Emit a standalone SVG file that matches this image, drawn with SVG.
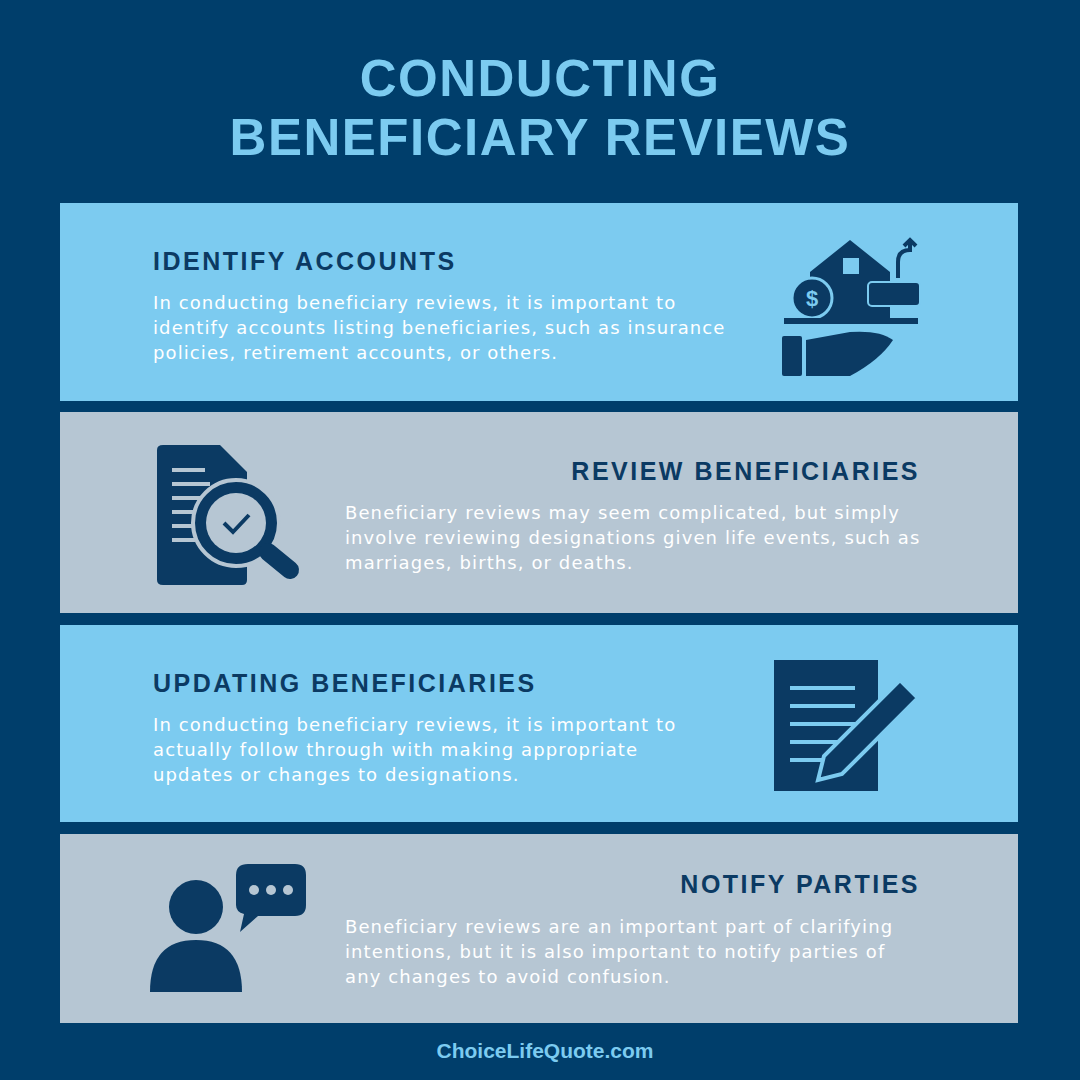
<svg xmlns="http://www.w3.org/2000/svg" width="1080" height="1080" viewBox="0 0 1080 1080">
<style>
.t{font-family:"Liberation Sans",Arial,sans-serif;font-weight:bold;fill:#7ccbf0;font-size:51px;text-anchor:middle;letter-spacing:1.5px}
.h{font-family:"Liberation Sans",Arial,sans-serif;font-weight:bold;fill:#0b3a63;font-size:25px;letter-spacing:2.5px}
.b{font-family:"DejaVu Sans",sans-serif;fill:#ffffff;font-size:18px;letter-spacing:1.1px}
.i{fill:#0b3a63}
</style>
<rect width="1080" height="1080" fill="#003e6b"/>
<text class="t" x="540" y="96">CONDUCTING</text>
<text class="t" x="540" y="155">BENEFICIARY REVIEWS</text>

<g id="p1">
<rect x="60" y="203" width="958" height="198" fill="#7ccbf0"/>
<text class="h" x="153" y="270">IDENTIFY ACCOUNTS</text>
<text class="b" x="153" y="309">In conducting beneficiary reviews, it is important to</text>
<text class="b" x="153" y="334">identify accounts listing beneficiaries, such as insurance</text>
<text class="b" x="153" y="359">policies, retirement accounts, or others.</text>
<g class="i">
<path d="M810 272 L850 240 L890 272 L890 318 L810 318Z"/>
<rect x="843" y="258" width="16" height="16" fill="#7ccbf0"/>
<circle cx="812" cy="298" r="20" stroke="#7ccbf0" stroke-width="3"/>
<text x="812" y="306" font-family="Liberation Sans,sans-serif" font-weight="bold" font-size="22" fill="#7ccbf0" text-anchor="middle">$</text>
<rect x="868" y="282" width="52" height="24" rx="4" stroke="#7ccbf0" stroke-width="2"/>
<path d="M898 278 L898 262 Q898 250 910 250 L910 240 M904 246 L910 240 L916 246" fill="none" stroke="#0b3a63" stroke-width="4"/>
<rect x="784" y="318" width="134" height="6"/>
<rect x="782" y="336" width="20" height="40" rx="2"/>
<path d="M806 340 L850 332 Q880 330 893 340 Q880 360 850 376 L806 376Z"/>
</g>
</g>

<g id="p2">
<rect x="60" y="412" width="958" height="201" fill="#b6c6d3"/>
<text class="h" x="920" y="480" text-anchor="end">REVIEW BENEFICIARIES</text>
<text class="b" x="345" y="519">Beneficiary reviews may seem complicated, but simply</text>
<text class="b" x="345" y="544">involve reviewing designations given life events, such as</text>
<text class="b" x="345" y="569">marriages, births, or deaths.</text>
<g class="i">
<path d="M163 445 L220 445 L247 472 L247 580 Q247 585 242 585 L163 585 Q157 585 157 580 L157 450 Q157 445 163 445Z"/>
<g stroke="#b6c6d3" stroke-width="4"><line x1="172" y1="470" x2="205" y2="470"/><line x1="172" y1="484" x2="210" y2="484"/><line x1="172" y1="498" x2="200" y2="498"/><line x1="172" y1="512" x2="195" y2="512"/><line x1="172" y1="526" x2="195" y2="526"/><line x1="172" y1="540" x2="195" y2="540"/></g>
<circle cx="236" cy="523" r="43" stroke="#b6c6d3" stroke-width="4"/>
<circle cx="236" cy="523" r="30" fill="#b6c6d3"/>
<path d="M224 523 L233 532 L249 515" fill="none" stroke="#0b3a63" stroke-width="4"/>
<path d="M268 552 L290 570" stroke="#0b3a63" stroke-width="18" stroke-linecap="round"/>
</g>
</g>

<g id="p3">
<rect x="60" y="625" width="958" height="197" fill="#7ccbf0"/>
<text class="h" x="153" y="692">UPDATING BENEFICIARIES</text>
<text class="b" x="153" y="731">In conducting beneficiary reviews, it is important to</text>
<text class="b" x="153" y="756">actually follow through with making appropriate</text>
<text class="b" x="153" y="781">updates or changes to designations.</text>
<g class="i">
<rect x="774" y="660" width="104" height="131"/>
<g stroke="#7ccbf0" stroke-width="4"><line x1="790" y1="688" x2="855" y2="688"/><line x1="790" y1="706" x2="855" y2="706"/><line x1="790" y1="724" x2="855" y2="724"/><line x1="790" y1="742" x2="840" y2="742"/><line x1="790" y1="760" x2="825" y2="760"/></g>
<path d="M900 680 L918 698 L842 774 L818 780 L824 756Z" stroke="#7ccbf0" stroke-width="4"/>
</g>
</g>

<g id="p4">
<rect x="60" y="834" width="958" height="189" fill="#b6c6d3"/>
<text class="h" x="920" y="893" text-anchor="end">NOTIFY PARTIES</text>
<text class="b" x="345" y="933">Beneficiary reviews are an important part of clarifying</text>
<text class="b" x="345" y="958">intentions, but it is also important to notify parties of</text>
<text class="b" x="345" y="983">any changes to avoid confusion.</text>
<g class="i">
<circle cx="196" cy="907" r="27"/>
<path d="M150 992 Q150 940 196 940 Q242 940 242 992Z"/>
<path d="M248 864 L295 864 Q306 864 306 875 L306 905 Q306 916 295 916 L258 916 L240 932 L244 914 Q236 912 236 905 L236 875 Q236 864 248 864Z"/>
<circle cx="254" cy="890" r="5" fill="#b6c6d3"/><circle cx="271" cy="890" r="5" fill="#b6c6d3"/><circle cx="288" cy="890" r="5" fill="#b6c6d3"/>
</g>
</g>

<text x="545" y="1058" font-family="Liberation Sans,sans-serif" font-weight="bold" font-size="21" fill="#7ccbf0" text-anchor="middle">ChoiceLifeQuote.com</text>
</svg>
